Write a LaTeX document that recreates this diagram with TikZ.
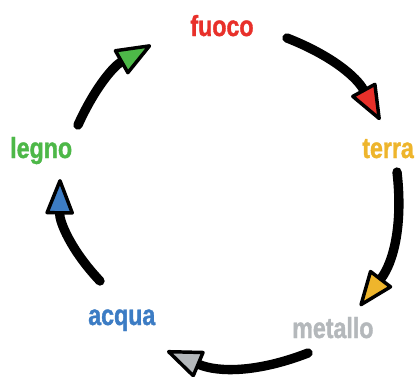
\documentclass[tikz,border=0pt]{standalone}
\usepackage{fontspec}
\setmainfont{Liberation Sans}[FakeStretch=0.8, BoldFeatures={FakeBold=1.2}]
\usepackage{tikz}
\usetikzlibrary{arrows.meta}

\definecolor{fuococol}{HTML}{E8302A}
\definecolor{terracol}{HTML}{EEB52C}
\definecolor{metallocol}{HTML}{B4B8BB}
\definecolor{acquacol}{HTML}{3C7CC4}
\definecolor{legnocol}{HTML}{4DB848}

\begin{document}
\begin{tikzpicture}[x=0.75pt, y=-0.75pt]
		\tikzstyle{Element} = [inner sep=0pt, font=\fontsize{21.75}{24}\selectfont\bfseries]
		\tikzstyle{Cycle}   = [line width=7pt, line cap=round, black]
		\tikzset{Head/.style={-{Triangle[round, length=29pt, width=22pt, line width=2.6pt, fill=#1]}}}

		\fill[white] (0,0) rectangle (417,376);
		\useasboundingbox (0,0) rectangle (417,376);

		\node (fuoco)   at (222, 36) [Element, anchor=base, text=fuococol] {fuoco};
		\node (terra)   at (362,158) [Element, anchor=base west, text=terracol] {terra};
		\node (metallo) at (292,338) [Element, anchor=base west, text=metallocol] {metallo};
		\node (acqua)   at (88, 325) [Element, anchor=base west, text=acquacol] {acqua};
		\node (legno)   at (10, 158) [Element, anchor=base west, text=legnocol] {legno};

		\coordinate (f1) at (287, 38);
		\coordinate (f2) at (380,120);
		\coordinate (t1) at (397,172);
		\coordinate (t2) at (360,306);
		\coordinate (m1) at (308,353);
		\coordinate (m2) at (167,351);
		\coordinate (a1) at (100,281);
		\coordinate (a2) at (60, 179);
		\coordinate (l1) at (78, 125);
		\coordinate (l2) at (151, 45);

		\draw [Cycle, Head=fuococol]   (f1) to [bend left=20] (f2);
		\draw [Cycle, Head=terracol]   (t1) to [bend left=22] (t2);
		\draw [Cycle, Head=metallocol] (m1) to [bend left=22] (m2);
		\draw [Cycle, Head=acquacol]   (a1) to [bend left=22] (a2);
		\draw [Cycle, Head=legnocol]   (l1) to [bend left=18] (l2);
	\end{tikzpicture}
\end{document}
